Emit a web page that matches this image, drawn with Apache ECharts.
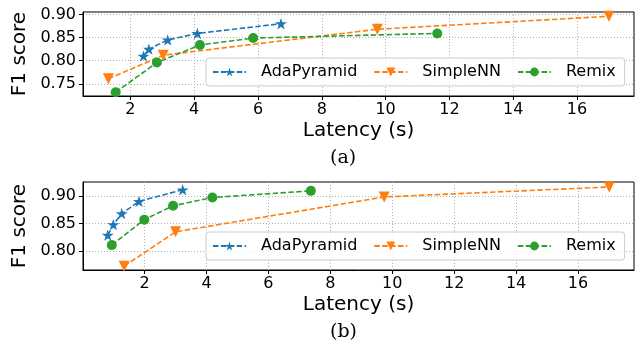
<!DOCTYPE html>
<html><head><meta charset="utf-8">
<script src="https://cdn.jsdelivr.net/npm/echarts@6/dist/echarts.min.js"></script>
<style>html,body{margin:0;padding:0;background:#fff}#c{width:638px;height:347px}</style>
</head><body><div id="c"></div>
<script>
const seriesNames = ['AdaPyramid', 'SimpleNN', 'Remix'];
// panel (a)
const adaA = [[2.41, 0.810], [2.58, 0.825], [3.17, 0.845], [4.10, 0.859], [6.72, 0.880]];
const simpleA = [[1.31, 0.761], [3.03, 0.812], [9.74, 0.868], [17.0, 0.896]];
const remixA = [[1.54, 0.732], [2.83, 0.796], [4.18, 0.834], [5.85, 0.849], [11.62, 0.859]];
// panel (b)
const adaB = [[0.81, 0.829], [0.99, 0.848], [1.26, 0.868], [1.82, 0.890], [3.23, 0.911]];
const simpleB = [[1.34, 0.773], [3.00, 0.835], [9.74, 0.898], [17.01, 0.916]];
const remixB = [[0.94, 0.811], [1.99, 0.857], [2.92, 0.882], [4.19, 0.897], [7.37, 0.909]];
// ticks
const xTicks = [2, 4, 6, 8, 10, 12, 14, 16];
const yTicksA = [0.75, 0.80, 0.85, 0.90];
const yTicksB = [0.80, 0.85, 0.90];
const panelLabels = ['(a)', '(b)'];
const xName = 'Latency (s)';
const yName = 'F1 score';

const colors = ['#1f77b4', '#ff7f0e', '#2ca02c'];
const STAR = 'path://M0,-1L0.2245,-0.309L0.951,-0.309L0.363,0.118L0.588,0.809L0,0.382L-0.588,0.809L-0.363,0.118L-0.951,-0.309L-0.2245,-0.309Z';
const symbols = [STAR, 'triangle', 'circle'];
const symSizes = [12, 11, 10];
const symRot = [0, 180, 0];
const FONT = 'DejaVu Sans';

function xAxis(idx, min, max) {
  return {
    type: 'value', gridIndex: idx, min: min, max: max,
    name: xName, nameLocation: 'middle', nameGap: 25,
    nameTextStyle: {fontFamily: FONT, fontSize: 20, color: '#000'},
    axisLine: {show: true, lineStyle: {color: '#000', width: 1}},
    axisTick: {show: true, length: 4, lineStyle: {color: '#000'}, customValues: xTicks},
    axisLabel: {fontFamily: FONT, fontSize: 16, color: '#000', margin: 6, customValues: xTicks,
      formatter: v => String(Math.round(v))},
    splitLine: {show: true, lineStyle: {color: '#b0b0b0', type: [1, 2], width: 1}}
  };
}
function yAxis(idx, min, max, ticks) {
  return {
    type: 'value', gridIndex: idx, min: min, max: max,
    name: yName, nameLocation: 'middle', nameGap: 47,
    nameTextStyle: {fontFamily: FONT, fontSize: 20, color: '#000'},
    axisLine: {show: true, lineStyle: {color: '#000', width: 1}},
    axisTick: {show: true, length: 4, lineStyle: {color: '#000'}, customValues: ticks},
    axisLabel: {fontFamily: FONT, fontSize: 16, color: '#000', margin: 7, customValues: ticks,
      formatter: v => v.toFixed(2)},
    splitLine: {show: true, lineStyle: {color: '#b0b0b0', type: [1, 2], width: 1}}
  };
}
function mkSeries(i, data, idx) {
  return {
    name: seriesNames[i], type: 'line', xAxisIndex: idx, yAxisIndex: idx, data: data,
    symbol: symbols[i], symbolSize: symSizes[i], symbolRotate: symRot[i], symbolKeepAspect: true,
    showAllSymbol: true,
    itemStyle: {color: colors[i]},
    lineStyle: {color: colors[i], width: 1.6, type: [5.5, 2.4]},
    emphasis: {disabled: true}
  };
}
function legend(top) {
  return {
    data: seriesNames, left: 206, top: top, orient: 'horizontal',
    itemWidth: 33, itemHeight: 11, itemGap: 16,
    padding: [6, 9, 6, 6],
    backgroundColor: 'rgba(255,255,255,0.8)', borderColor: '#cccccc', borderWidth: 1, borderRadius: 3,
    textStyle: {fontFamily: FONT, fontSize: 16, color: '#000', padding: [0, 0, 0, 10]},
    selectedMode: false
  };
}

const chart = echarts.init(document.getElementById('c'), null, {renderer: 'canvas'});
chart.setOption({
  animation: false,
  backgroundColor: '#fff',
  grid: [
    {left: 83, top: 12, width: 551, height: 84, show: true, borderColor: '#000', borderWidth: 1, backgroundColor: 'transparent'},
    {left: 83, top: 182, width: 551, height: 88, show: true, borderColor: '#000', borderWidth: 1, backgroundColor: 'transparent'}
  ],
  xAxis: [xAxis(0, 0.515, 17.785), xAxis(1, 0.01, 17.81)],
  yAxis: [yAxis(0, 0.7238, 0.9053, yTicksA), yAxis(1, 0.766, 0.925, yTicksB)],
  legend: [legend(58), legend(232)],
  graphic: [
    {type: 'text', left: 330, top: 149, style: {text: panelLabels[0], font: '19px "DejaVu Serif"', fill: '#000'}},
    {type: 'text', left: 330, top: 323, style: {text: panelLabels[1], font: '19px "DejaVu Serif"', fill: '#000'}}
  ],
  series: [
    mkSeries(0, adaA, 0), mkSeries(1, simpleA, 0), mkSeries(2, remixA, 0),
    mkSeries(0, adaB, 1), mkSeries(1, simpleB, 1), mkSeries(2, remixB, 1)
  ]
});
</script>
</body></html>
